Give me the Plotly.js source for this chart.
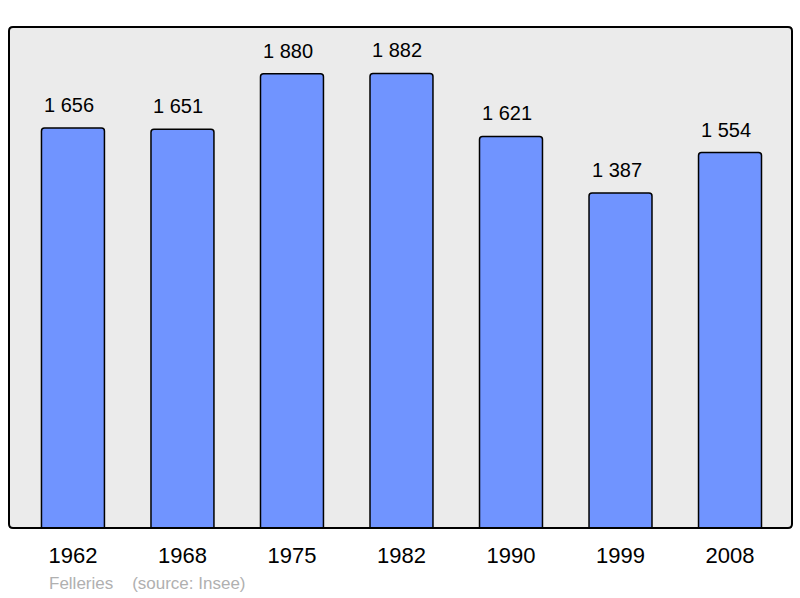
<!DOCTYPE html>
<html>
<head>
<meta charset="utf-8">
<script src="https://cdn.plot.ly/plotly-3.0.1.min.js"></script>
<style>html,body{margin:0;padding:0;background:#fff;}#chart{width:800px;height:598px;}</style>
</head>
<body>
<div id="chart"></div>
<script>
const years = ["1962", "1968", "1975", "1982", "1990", "1999", "2008"];
const population = [1656, 1651, 1880, 1882, 1621, 1387, 1554];
const valueLabels = ["1 656", "1 651", "1 880", "1 882", "1 621", "1 387", "1 554"];
const footerTown = "Felleries";
const footerSource = "(source: Insee)";

const FONT = "Liberation Sans, Arial, sans-serif";

const trace = {
  type: "bar",
  x: years.map((_, i) => i),
  y: population,
  width: 0.575,
  marker: {color: "#7094ff", line: {color: "#000", width: 1.5}, cornerradius: 3},
  hoverinfo: "none"
};

const rx = 4 / 783, ry = 4 / 501;
const framePath = `M ${rx} 0 L ${1 - rx} 0 Q 1 0 1 ${ry} L 1 ${1 - ry} Q 1 1 ${1 - rx} 1 L ${rx} 1 Q 0 1 0 ${1 - ry} L 0 ${ry} Q 0 0 ${rx} 0 Z`;

const annotations = population.map((v, i) => ({
  x: i, y: v, xref: "x", yref: "y",
  text: valueLabels[i], showarrow: false,
  yanchor: "bottom", yshift: 10, xshift: -4,
  font: {family: FONT, size: 20, color: "#000"}
}));
annotations.push({
  xref: "paper", yref: "paper", x: 38 / 783, y: 0, yshift: -44,
  xanchor: "left", yanchor: "top", showarrow: false,
  text: footerTown + "\u00a0\u00a0\u00a0\u00a0" + footerSource,
  font: {family: FONT, size: 17, color: "#b0b0b0"}
});

const layout = {
  width: 800, height: 598,
  margin: {l: 9, r: 8, t: 27, b: 70, pad: 0},
  paper_bgcolor: "#fff",
  plot_bgcolor: "#ebebeb",
  showlegend: false,
  xaxis: {
    range: [-0.584, 6.566], tickmode: "array",
    tickvals: years.map((_, i) => i), ticktext: years,
    showgrid: false, zeroline: false, showline: false, ticks: "",
    ticklabelstandoff: 12,
    tickfont: {family: FONT, size: 22, color: "#000"}, fixedrange: true
  },
  yaxis: {
    range: [0, 2074], showgrid: false, zeroline: false, showline: false,
    showticklabels: false, ticks: "", fixedrange: true
  },
  shapes: [{
    type: "path", xref: "paper", yref: "paper", path: framePath,
    line: {color: "#000", width: 2}, layer: "above"
  }],
  annotations: annotations
};

Plotly.newPlot("chart", [trace], layout, {staticPlot: true, displayModeBar: false});
</script>
</body>
</html>
